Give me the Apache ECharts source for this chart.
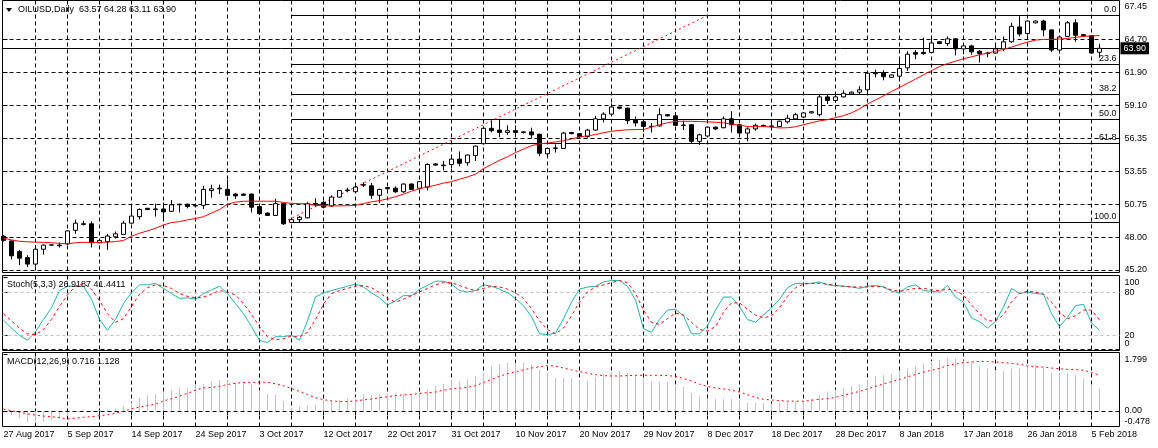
<!DOCTYPE html>
<html><head><meta charset="utf-8">
<script src="https://cdn.jsdelivr.net/npm/echarts/dist/echarts.min.js"></script>
<style>html,body{margin:0;padding:0;background:#fff}#c{width:1158px;height:448px}</style>
</head><body><div id="c"></div>
<script>
// ---------------- DATA ----------------
const symbolName = 'OILUSD,Daily';
const stochName = 'Stoch(5,3,3)';
const macdName = 'MACD(12,26,9)';

const dates = [
'27 Aug 2017','28 Aug 2017','29 Aug 2017','30 Aug 2017','31 Aug 2017','1 Sep 2017','3 Sep 2017','4 Sep 2017','5 Sep 2017','6 Sep 2017',
'7 Sep 2017','8 Sep 2017','10 Sep 2017','11 Sep 2017','12 Sep 2017','13 Sep 2017','14 Sep 2017','15 Sep 2017','17 Sep 2017','18 Sep 2017',
'19 Sep 2017','20 Sep 2017','21 Sep 2017','22 Sep 2017','24 Sep 2017','25 Sep 2017','26 Sep 2017','27 Sep 2017','28 Sep 2017','29 Sep 2017',
'1 Oct 2017','2 Oct 2017','3 Oct 2017','4 Oct 2017','5 Oct 2017','6 Oct 2017','8 Oct 2017','9 Oct 2017','10 Oct 2017','11 Oct 2017',
'12 Oct 2017','13 Oct 2017','15 Oct 2017','16 Oct 2017','17 Oct 2017','18 Oct 2017','19 Oct 2017','20 Oct 2017','22 Oct 2017','23 Oct 2017',
'24 Oct 2017','25 Oct 2017','26 Oct 2017','27 Oct 2017','29 Oct 2017','30 Oct 2017','31 Oct 2017','1 Nov 2017','2 Nov 2017','3 Nov 2017',
'6 Nov 2017','7 Nov 2017','8 Nov 2017','9 Nov 2017','10 Nov 2017','12 Nov 2017','13 Nov 2017','14 Nov 2017','15 Nov 2017','16 Nov 2017',
'17 Nov 2017','19 Nov 2017','20 Nov 2017','21 Nov 2017','22 Nov 2017','23 Nov 2017','24 Nov 2017','26 Nov 2017','27 Nov 2017','28 Nov 2017',
'29 Nov 2017','30 Nov 2017','1 Dec 2017','3 Dec 2017','4 Dec 2017','5 Dec 2017','6 Dec 2017','7 Dec 2017','8 Dec 2017','10 Dec 2017',
'11 Dec 2017','12 Dec 2017','13 Dec 2017','14 Dec 2017','15 Dec 2017','17 Dec 2017','18 Dec 2017','19 Dec 2017','20 Dec 2017','21 Dec 2017',
'22 Dec 2017','24 Dec 2017','26 Dec 2017','27 Dec 2017','28 Dec 2017','29 Dec 2017','31 Dec 2017','2 Jan 2018','3 Jan 2018','4 Jan 2018',
'5 Jan 2018','7 Jan 2018','8 Jan 2018','9 Jan 2018','10 Jan 2018','11 Jan 2018','12 Jan 2018','14 Jan 2018','15 Jan 2018','16 Jan 2018',
'17 Jan 2018','18 Jan 2018','19 Jan 2018','21 Jan 2018','22 Jan 2018','23 Jan 2018','24 Jan 2018','25 Jan 2018','26 Jan 2018','28 Jan 2018',
'29 Jan 2018','30 Jan 2018','31 Jan 2018','1 Feb 2018','2 Feb 2018','4 Feb 2018','5 Feb 2018','6 Feb 2018'];

const open = [
48.05,47.65,46.75,46.25,45.7,46.95,47.3,47.3,47.4,48.55,
49.1,49.1,47.5,47.6,48.0,48.2,49.15,49.7,50.4,50.35,
50.35,50.15,50.7,50.75,50.6,50.65,51.9,52.05,52.0,51.6,
51.6,51.6,50.55,50.0,49.8,50.8,49.2,49.45,49.6,50.8,
50.9,50.6,51.35,51.9,51.8,52.35,52.3,51.5,52.15,52.1,
51.8,52.45,52.1,52.2,54.15,54.05,54.1,54.55,54.25,54.85,
55.85,57.15,57.0,56.8,56.95,56.8,56.85,56.65,55.0,55.45,
55.45,56.8,56.7,56.45,57.0,57.95,58.35,58.95,58.85,57.85,
57.7,57.3,57.35,58.3,58.2,57.4,57.45,56.05,56.5,57.25,
57.2,57.95,57.45,56.75,57.1,57.4,57.35,57.3,57.7,57.95,
58.1,58.45,58.3,59.8,59.5,59.8,60.05,60.2,60.4,61.85,
61.85,61.45,61.55,62.25,63.55,63.55,63.55,64.45,64.3,64.7,
63.85,64.1,63.65,63.45,63.5,63.85,64.45,65.7,65.15,66.05,
66.2,65.45,63.75,64.9,66.05,65.05,64.95,63.57];
const high = [
48.15,47.7,46.9,46.45,47.3,47.35,47.35,47.5,48.55,49.45,
49.35,49.3,47.75,48.25,48.45,49.35,50.55,50.4,50.45,50.8,
50.9,51.1,50.8,50.8,50.7,52.3,52.4,52.4,52.8,51.7,
51.65,51.65,50.6,50.05,51.2,50.85,49.5,49.75,50.95,51.25,
51.05,51.5,51.95,52.15,52.4,52.6,52.55,52.05,52.2,52.25,
52.5,52.5,52.7,54.2,54.2,54.4,54.8,55.2,54.95,55.7,
57.3,57.75,57.95,57.4,57.4,56.9,57.2,56.7,55.5,55.8,
56.85,56.85,56.75,57.1,58.2,58.5,59.25,58.95,58.9,58.15,
57.75,57.6,58.85,58.35,58.5,57.8,57.5,56.7,57.3,57.3,
58.15,58.6,57.5,57.25,57.55,57.45,57.6,57.8,58.3,58.45,
58.5,58.6,60.0,60.0,60.0,60.35,60.25,60.7,61.85,62.1,
62.05,61.7,62.95,63.65,63.75,64.8,64.75,64.5,64.9,64.75,
64.2,64.2,63.75,63.6,64.1,64.9,66.05,66.6,66.25,66.25,
66.3,65.5,64.95,66.2,66.35,65.1,65.0,64.28];
const low = [
47.6,46.1,45.6,45.45,45.5,46.5,47.25,47.1,47.3,48.25,
48.95,47.1,47.45,46.9,47.85,48.15,49.1,49.45,50.25,49.7,
49.45,50.1,50.05,50.4,50.55,50.35,51.3,51.6,51.45,51.2,
51.45,50.05,49.85,49.75,49.75,49.0,49.15,49.2,49.55,50.55,
50.4,50.5,51.3,51.75,51.7,52.2,51.2,50.85,52.0,51.7,
51.7,51.95,52.0,51.9,54.0,53.6,53.8,53.95,54.0,54.4,
55.8,56.8,56.4,56.6,56.5,56.7,56.3,54.8,54.9,55.1,
55.4,56.65,56.3,56.35,56.95,57.65,58.2,58.75,57.5,57.3,
56.85,56.8,57.3,58.15,57.35,57.0,55.9,55.75,56.45,57.0,
57.15,56.8,56.7,56.05,56.95,57.3,57.1,57.25,57.55,57.85,
58.0,58.4,58.15,59.2,59.3,59.75,60.0,60.0,60.2,61.45,
61.2,61.4,61.4,62.0,62.98,63.35,63.5,64.25,64.1,63.3,
63.4,63.35,62.7,63.15,63.45,63.65,64.35,64.9,65.0,66.0,
64.9,63.6,63.65,64.85,64.45,64.9,63.45,63.11];
const close = [
47.7,46.4,46.2,45.7,46.95,47.3,47.32,47.25,48.5,49.15,
49.05,47.5,47.7,48.07,48.25,49.15,49.75,50.3,50.3,50.3,
50.1,50.7,50.75,50.55,50.65,52.0,52.05,52.1,51.5,51.45,
51.5,50.5,49.95,49.8,50.8,49.1,49.45,49.65,50.8,50.75,
50.5,51.35,51.9,51.95,52.2,52.4,51.5,52.0,52.05,51.8,
52.45,52.0,52.65,54.1,54.05,54.0,54.55,54.2,54.9,55.65,
57.15,56.95,56.8,56.95,56.8,56.85,56.6,55.05,55.45,55.5,
56.75,56.7,56.45,57.0,57.95,58.35,58.95,58.85,57.8,57.6,
57.3,57.32,58.3,58.2,57.4,57.42,56.05,56.6,57.25,57.1,
57.95,57.45,56.75,57.1,57.4,57.35,57.3,57.75,58.0,58.3,
58.45,58.55,59.8,59.5,59.8,60.1,60.2,60.4,61.8,61.75,
61.5,61.65,62.2,63.4,63.4,63.45,64.35,64.3,64.7,63.85,
64.1,63.6,63.45,63.5,63.85,64.45,65.75,65.1,66.2,66.2,
65.45,63.75,64.85,66.05,65.0,64.95,63.5,63.90];

const movingAverage = [
47.88,47.74,47.62,47.58,47.55,47.53,47.5,47.45,47.4,47.5,
47.53,47.53,47.53,47.55,47.6,47.69,48.05,48.3,48.5,48.72,
49.0,49.2,49.28,49.43,49.54,49.7,50.0,50.3,50.75,50.92,
51.0,51.0,51.0,51.0,51.0,50.9,50.82,
50.8,50.78,50.65,50.62,50.61,50.61,50.62,50.65,50.8,50.95,
51.05,51.2,51.38,51.6,51.85,52.05,52.2,52.35,52.53,52.65,
52.85,53.05,53.28,53.75,54.1,54.45,54.75,55.1,55.4,55.68,
55.85,55.9,56.0,56.1,56.25,56.42,
56.52,56.62,56.78,56.9,56.97,57.03,57.04,57.05,57.25,57.45,
57.62,57.74,57.74,57.74,57.72,57.7,57.66,57.62,57.5,57.42,
57.3,57.28,57.3,57.25,57.18,57.2,57.28,57.45,57.62,57.78,
57.88,58.05,58.22,58.45,58.8,
59.19,59.54,59.89,60.25,60.6,60.95,61.3,61.66,62.01,62.36,
62.61,62.81,63.01,63.18,63.35,63.49,63.66,63.8,64.0,64.22,
64.42,64.59,64.65,64.65,64.68,64.73,64.82,64.9,64.95,64.98];

const stochMain = [
41,30,20,13,25,42,58,82,88,88, 88,70,42,27,42,64,79,90,90,92,
85,78,71,72,70,78,83,88,78,64, 50,32,13,10,18,18,20,13,40,73,
79,82,85,88,91,87,79,72,62,68,
75,75,84,89,95,95,91,82,80,82, 90,88,84,79,71,61,46,22,21,23,
43,66,84,87,88,94,96,96,88,69, 29,24,42,55,56,47,22,22,33,55,
73,73,60,42,38,48,
58,70,86,92,92,92,94,90,89,88, 87,85,88,89,87,81,79,87,90,82,
81,80,89,73,66,44,39,30,39,59, 85,78,80,78,77,50,32,45,61,63,
37,26.9187];
const stochSignal = [
50,40,30,22,21,28,42,60,76,88, 92,84,68,50,38,43,60,77,86,90,
89,85,78,74,72,73,77,82,80,76, 64,49,32,18,14,15,19,18,24,42,
63,78,82,85,88,89,86,79,71,66,
70,75,80,85,90,93,93,89,85,82, 85,88,87,84,79,71,57,40,28,22,
30,47,66,80,87,90,93,96,93,78, 55,38,35,43,51,48,38,28,26,32,
52,65,65,56,48,44,
47,58,74,86,91,92,92,91,89,88, 87,87,87,88,87,83,81,83,85,85,
83,82,84,82,76,62,50,40,40,48, 66,78,81,80,77,66,52,43,47,55,
55,41.4411];

const macdMain = [
-0.03,-0.13,-0.23,-0.34,-0.39,-0.34,-0.29,-0.23,-0.15,-0.03,
0.04,0.03,0.02,0.05,0.07,0.16,0.27,0.42,0.49,0.52,
0.59,0.66,0.74,0.74,0.84,0.85,0.95,0.98,0.95,0.91,
0.91,0.84,0.66,0.53,0.51,0.32,0.1,0.14,0.19,0.21,
0.35,0.32,0.35,0.40,0.45,0.53,0.51,0.53,0.55,0.56,
0.53,0.53,0.58,0.69,0.79,0.86,0.97,0.94,1.0,1.11,
1.23,1.42,1.49,1.52,1.53,1.52,1.48,1.31,1.23,1.04,
1.04,1.04,0.97,0.97,1.08,1.18,1.23,1.27,1.21,1.13,
1.04,0.95,0.95,0.92,0.79,0.76,0.57,0.47,0.39,0.39,
0.39,0.39,0.34,0.25,0.25,
0.25,0.24,0.25,0.28,0.31,0.31,0.39,0.5,0.62,0.67,
0.73,0.79,0.84,0.97,1.11,1.15,1.18,1.26,1.34,1.42,
1.5,1.58,1.62,1.68,1.66,1.6,1.53,1.42,1.34,1.29,
1.26,1.34,1.34,1.41,1.47,1.36,1.21,1.18,1.18,1.13,
1.02,0.83,0.716];
const macdSignal = [
0.06,0.01,-0.04,-0.09,-0.13,-0.16,-0.18,-0.21,-0.25,-0.23,
-0.2,-0.18,-0.15,-0.12,-0.07,-0.01,0.07,0.12,0.17,0.22,
0.32,0.39,0.47,0.56,0.66,0.73,0.75,0.78,0.84,0.88,
0.9,0.91,0.91,0.91,0.86,0.8,0.71,0.62,0.52,0.42,
0.36,0.32,0.3,0.3,0.32,0.35,0.38,0.42,0.45,0.49,
0.51,0.52,0.56,0.58,0.6,0.66,0.7,0.72,0.75,0.8,
0.9,1.0,1.1,1.18,1.24,1.3,1.36,1.4,1.44,1.42,
1.36,1.3,1.25,1.2,1.15,1.12,1.11,1.11,1.12,1.13,
1.13,1.13,1.13,1.12,1.1,1.03,0.95,0.85,0.78,0.73,
0.7,0.66,0.6,0.52,0.43,
0.37,0.35,0.33,0.31,0.31,0.31,0.34,0.37,0.39,0.43,
0.5,0.56,0.62,0.7,0.78,0.86,0.93,1.0,1.08,1.16,
1.23,1.29,1.35,1.44,1.49,1.53,1.55,1.57,1.57,1.55,
1.53,1.51,1.48,1.43,1.4,1.39,1.36,1.34,1.32,1.31,
1.29,1.22,1.128];

const priceTickLabels = ['45.20','48.00','50.75','53.55','56.35','59.10','61.90','64.70','67.45'];
const stochTickLabels = ['20','80','0','100'];
const stochLevels = [20, 80];
const macdTickLabels = ['-0.478','0.00','1.799'];
const fiboLevels = [0.0, 23.6, 38.2, 50.0, 61.8, 100.0];
const fiboHigh = 66.67, fiboLow = 49.23;
const fiboStartBar = 35, fiboEndBar = 88, fiboLineStartBar = 36;
const bidPrice = 63.90;

// ---------------- LAYOUT ----------------
const FONT = '"Liberation Sans", Arial, sans-serif';
const FS = 9;
const N = dates.length;
const xMin = -0.125, xMax = 139.5;
const gridBars = [], labelBars = [];
for (let i = 4; i < N; i += 4) gridBars.push(i);
for (let i = 0; i < N; i += 8) labelBars.push(i);

const pLo = +priceTickLabels[0], pHi = +priceTickLabels[priceTickLabels.length - 1];
const pStep = (pHi - pLo) / (priceTickLabels.length - 1);
const priceTickVals = priceTickLabels.map((_, k) => pLo + k * pStep);
const pxPerPrice = (270 - 6.2) / (pHi - pLo);
const yMin0 = pLo - (272.5 - 270) / pxPerPrice, yMax0 = pHi + (6.2 - 0.5) / pxPerPrice;
const pxPerStoch = (349.7 - 277.6) / 100;
const yMin1 = -(350.5 - 349.7) / pxPerStoch, yMax1 = 100 + (277.6 - 275.5) / pxPerStoch;
const mLo = +macdTickLabels[0], mHi = +macdTickLabels[2];
const pxPerMacd = (426.1 - 354.2) / (mHi - mLo);
const yMin2 = mLo - (426.5 - 426.1) / pxPerMacd, yMax2 = mHi + (354.2 - 352.5) / pxPerMacd;

const dash = [4, 3];
const lblStyle = {color: '#000', fontSize: FS, fontFamily: FONT};

function xAxisFor(i, show) {
  return {
    type: 'value', gridIndex: i, min: xMin, max: xMax,
    axisLine: {show: false},
    axisTick: {show: show, length: 4, lineStyle: {color: '#000'}, customValues: gridBars},
    axisLabel: Object.assign({show: show, customValues: labelBars, align: 'left', margin: 4,
      showMinLabel: true, showMaxLabel: true,
      formatter: v => dates[Math.round(v)]}, lblStyle),
    splitLine: {show: true, lineStyle: {color: '#000', type: dash, width: 1}}
  };
}

const chart = echarts.init(document.getElementById('c'), null, {renderer: 'canvas'});
const option = {
  animation: false,
  backgroundColor: '#fff',
  grid: [
    {left: 2.5, top: 0.5, width: 1117, height: 272, show: true, borderColor: '#000', borderWidth: 1, backgroundColor: 'transparent'},
    {left: 2.5, top: 275.5, width: 1117, height: 75, show: true, borderColor: '#000', borderWidth: 1, backgroundColor: 'transparent'},
    {left: 2.5, top: 352.5, width: 1117, height: 74, show: true, borderColor: '#000', borderWidth: 1, backgroundColor: 'transparent'}
  ],
  xAxis: [xAxisFor(0, false), xAxisFor(1, false), xAxisFor(2, true)],
  yAxis: [
    {type: 'value', gridIndex: 0, position: 'right', min: yMin0, max: yMax0,
     axisLine: {show: false},
     axisTick: {show: true, length: 4, lineStyle: {color: '#000'}, customValues: priceTickVals.slice(0, -1)},
     axisLabel: Object.assign({customValues: priceTickVals, margin: 5, showMinLabel: true, showMaxLabel: true,
       formatter: v => priceTickLabels[Math.round((v - pLo) / pStep)]}, lblStyle),
     splitLine: {show: true, lineStyle: {color: '#000', type: dash, width: 1}}},
    {type: 'value', gridIndex: 1, position: 'right', min: yMin1, max: yMax1,
     axisLine: {show: false},
     axisTick: {show: true, length: 4, lineStyle: {color: '#000'}, customValues: stochTickLabels.map(Number)},
     axisLabel: Object.assign({customValues: stochTickLabels.map(Number), margin: 5, showMinLabel: true, showMaxLabel: true,
       formatter: v => { const s = stochTickLabels.find(t => +t === v);
         return v === 100 ? '{hi|' + s + '}' : (v === 0 ? '{lo|' + s + '}' : s); },
       rich: {hi: {padding: [10, 0, 0, 0], fontSize: FS, fontFamily: FONT, color: '#000'},
              lo: {padding: [0, 0, 12, 0], fontSize: FS, fontFamily: FONT, color: '#000'}}}, lblStyle),
     splitLine: {show: false}},
    {type: 'value', gridIndex: 2, position: 'right', min: yMin2, max: yMax2,
     axisLine: {show: false},
     axisTick: {show: true, length: 4, lineStyle: {color: '#000'}, customValues: macdTickLabels.map(Number)},
     axisLabel: Object.assign({customValues: macdTickLabels.map(Number), margin: 5, showMinLabel: true, showMaxLabel: true,
       formatter: v => { const s = macdTickLabels.find(t => Math.abs(+t - v) < 1e-9);
         return v === mHi ? '{hi|' + s + '}' : (v === mLo ? '{lo|' + s + '}' : s); },
       rich: {hi: {padding: [10, 0, 0, 0], fontSize: FS, fontFamily: FONT, color: '#000'},
              lo: {padding: [0, 0, 10, 0], fontSize: FS, fontFamily: FONT, color: '#000'}}}, lblStyle),
     splitLine: {show: false}}
  ],
  series: [
    {type: 'candlestick', name: 'OILUSD', xAxisIndex: 0, yAxisIndex: 0,
     data: dates.map((d, i) => [i, open[i], close[i], low[i], high[i]]),
     encode: {x: 0, y: [1, 2, 3, 4]},
     barWidth: 5, clip: false, silent: true, z: 4,
     itemStyle: {color: '#fff', color0: '#000', borderColor: '#000', borderColor0: '#000', borderWidth: 1}},
    {type: 'line', name: 'MA', xAxisIndex: 0, yAxisIndex: 0, z: 5,
     data: movingAverage.map((v, i) => [i, v]), showSymbol: false, symbol: 'none', clip: false, silent: true,
     lineStyle: {color: '#ff0000', width: 1},
     markLine: {silent: true, symbol: ['none', 'none'], animation: false, z: 3,
       data: [
         [{coord: [xMin, bidPrice], name: 'bid', lineStyle: {color: '#000', type: 'solid', width: 1},
           label: {show: true, position: 'end', distance: 1, formatter: bidPrice.toFixed(2),
                   backgroundColor: '#000', color: '#fff', padding: [2, 3, 1, 3], fontSize: FS, fontFamily: FONT}},
          {coord: [xMax, bidPrice]}],
         ...fiboLevels.map(l => {
           const p = fiboHigh - l / 100 * (fiboHigh - fiboLow);
           return [{coord: [fiboLineStartBar, p], name: l.toFixed(1), lineStyle: {color: '#000', type: 'solid', width: 1},
                    label: {show: true, position: 'insideEndTop', formatter: '{b}', distance: [3, 1],
                            color: '#000', fontSize: FS, fontFamily: FONT}},
                   {coord: [xMax, p]}];
         }),
         [{coord: [fiboStartBar, fiboLow], name: 'fibo', lineStyle: {color: '#ff0000', type: [2, 3], width: 1},
           label: {show: false}},
          {coord: [fiboEndBar, fiboHigh]}]
       ]}},
    {type: 'line', name: 'StochMain', xAxisIndex: 1, yAxisIndex: 1, z: 5,
     data: stochMain.map((v, i) => [i, v]), showSymbol: false, symbol: 'none', clip: false, silent: true,
     lineStyle: {color: '#20b2aa', width: 1},
     markLine: {silent: true, symbol: ['none', 'none'], animation: false, z: 2,
       data: stochLevels.map(l => [{coord: [xMin, l], lineStyle: {color: '#c0c0c0', type: [3, 3], width: 1}, label: {show: false}}, {coord: [xMax, l]}])
         .concat([[{coord: [xMin, 0], lineStyle: {color: '#000', type: dash, width: 1}, label: {show: false}}, {coord: [xMax, 0]}]])}},
    {type: 'line', name: 'StochSignal', xAxisIndex: 1, yAxisIndex: 1, z: 6,
     data: stochSignal.map((v, i) => [i, v]), showSymbol: false, symbol: 'none', clip: false, silent: true,
     lineStyle: {color: '#ff0000', width: 1, type: [3, 3]}},
    {type: 'bar', name: 'MACD', xAxisIndex: 2, yAxisIndex: 2, z: 3,
     data: macdMain.map((v, i) => [i, v]), barWidth: 1, silent: true,
     itemStyle: {color: '#c0c0c0'},
     markLine: {silent: true, symbol: ['none', 'none'], animation: false,
       data: [[{coord: [xMin, 0], lineStyle: {color: '#000', type: dash, width: 1}, label: {show: false}}, {coord: [xMax, 0]}]]}},
    {type: 'line', name: 'Signal', xAxisIndex: 2, yAxisIndex: 2, z: 6,
     data: macdSignal.map((v, i) => [i, v]), showSymbol: false, symbol: 'none', clip: false, silent: true,
     lineStyle: {color: '#ff0000', width: 1, type: [2, 3]}}
  ],
  graphic: [
    {type: 'polygon', shape: {points: [[6, 8], [12, 8], [9, 12]]}, style: {fill: '#000'}, z: 100},
    {type: 'text', x: 18, y: 10, z: 100, style: {
      text: symbolName + '  ' + [open[N-1], high[N-1], low[N-1], close[N-1]].map(v => v.toFixed(2)).join(' '),
      font: FS + 'px ' + FONT, fill: '#000', verticalAlign: 'middle'}},
    {type: 'text', x: 7, y: 285, z: 100, style: {
      text: stochName + ' ' + stochMain[N-1].toFixed(4) + ' ' + stochSignal[N-1].toFixed(4),
      font: FS + 'px ' + FONT, fill: '#000', verticalAlign: 'middle'}},
    {type: 'text', x: 7, y: 361.5, z: 100, style: {
      text: macdName + ' ' + macdMain[N-1].toFixed(3) + ' ' + macdSignal[N-1].toFixed(3),
      font: FS + 'px ' + FONT, fill: '#000', verticalAlign: 'middle'}}
  ]
};
chart.setOption(option);
</script>
</body></html>
